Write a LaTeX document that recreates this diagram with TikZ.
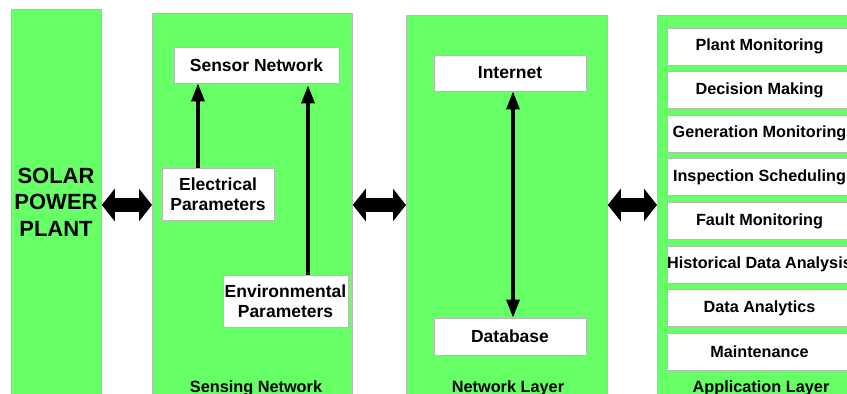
\documentclass[tikz,border=0pt]{standalone}
\usepackage{fontspec}
\setmainfont{Liberation Sans}
\usetikzlibrary{arrows.meta}
\definecolor{panelgreen}{RGB}{102,255,102}
\definecolor{edgegray}{RGB}{185,185,185}
\begin{document}
\begin{tikzpicture}[x=1pt,y=-1pt,
  panel/.style={fill=panelgreen, draw=edgegray, line width=0.8pt, anchor=north west, inner sep=0pt},
  wbox/.style={fill=white, draw=edgegray, line width=0.8pt, inner sep=0pt, align=center, font=\fontsize{17.5}{20.5}\selectfont\bfseries},
  appbox/.style={fill=white, draw=edgegray, line width=0.8pt, inner sep=0pt, minimum width=185pt, minimum height=37pt, font=\fontsize{16.2}{19}\selectfont\bfseries},
  layerlabel/.style={anchor=base, inner sep=0pt, font=\fontsize{16.3}{19}\selectfont\bfseries},
  thinarrow/.style={line width=3.2pt, -{Triangle[length=18pt 0,width=13pt 0]}},
  thinboth/.style={line width=3.2pt, {Triangle[length=18pt 0,width=13pt 0]}-{Triangle[length=18pt 0,width=13pt 0]}},
  fatarrow/.style={line width=14pt, {Triangle[length=13pt 0,width=32pt 0]}-{Triangle[length=13pt 0,width=32pt 0]}}
]
\clip (0,0) rectangle (847,394);
\fill[white] (0,0) rectangle (847,394);

% panels
\node[panel, minimum width=90pt, minimum height=400pt] (solar) at (11,9) {};
\node[panel, minimum width=200pt, minimum height=400pt] (sensing) at (152,13) {};
\node[panel, minimum width=201pt, minimum height=400pt] (network) at (406,15) {};
\node[panel, minimum width=260pt, minimum height=400pt] (app) at (657,15) {};

% solar label
\node[align=center, inner sep=0pt, font=\fontsize{22}{26.5}\selectfont\bfseries] (solarlbl) at (56,202) {SOLAR\\POWER\\PLANT};

% sensing network
\node[wbox, minimum width=165pt, minimum height=36pt] (sensor) at (256.5,65) {Sensor Network};
\node[wbox, minimum width=112pt, minimum height=52pt] (elec) at (218,194) {Electrical\\Parameters};
\node[wbox, minimum width=125pt, minimum height=52pt] (env) at (285.5,301) {Environmental\\Parameters};
\node[layerlabel] (senslbl) at (256,392) {Sensing Network};

\draw[thinarrow] ([xshift=-20pt]elec.north) -- ([xshift=-20pt]elec.north |- sensor.south);
\draw[thinarrow] ([xshift=22.5pt]env.north) -- ([xshift=22.5pt,yshift=-2pt]env.north |- sensor.south);

% network layer
\node[wbox, minimum width=152pt, minimum height=36pt] (internet) at (510,73) {Internet};
\node[wbox, minimum width=152pt, minimum height=37pt] (database) at (510,336.5) {Database};
\node[layerlabel] (netlbl) at (508,392) {Network Layer};
\draw[thinboth] ([xshift=3pt]internet.south) -- ([xshift=3pt]database.north);

% application layer
\node[appbox] (a1) at (759.5,46.5) {Plant Monitoring};
\node[appbox] (a2) at (759.5,90.1) {Decision Making};
\node[appbox] (a3) at (759.5,133.7) {Generation Monitoring};
\node[appbox] (a4) at (759.5,177.3) {Inspection Scheduling};
\node[appbox] (a5) at (759.5,220.9) {Fault Monitoring};
\node[appbox] (a6) at (759.5,264.5) {Historical Data Analysis};
\node[appbox] (a7) at (759.5,308.1) {Data Analytics};
\node[appbox] (a8) at (759.5,351.7) {Maintenance};
\node[layerlabel] (applbl) at (761,392) {Application Layer};

% fat double arrows between layers
\coordinate (ylevel) at (0,205);
\draw[fatarrow] (solar.east |- ylevel) -- (sensing.west |- ylevel);
\draw[fatarrow] (sensing.east |- ylevel) -- (network.west |- ylevel);
\draw[fatarrow] (network.east |- ylevel) -- (app.west |- ylevel);
\end{tikzpicture}
\end{document}
